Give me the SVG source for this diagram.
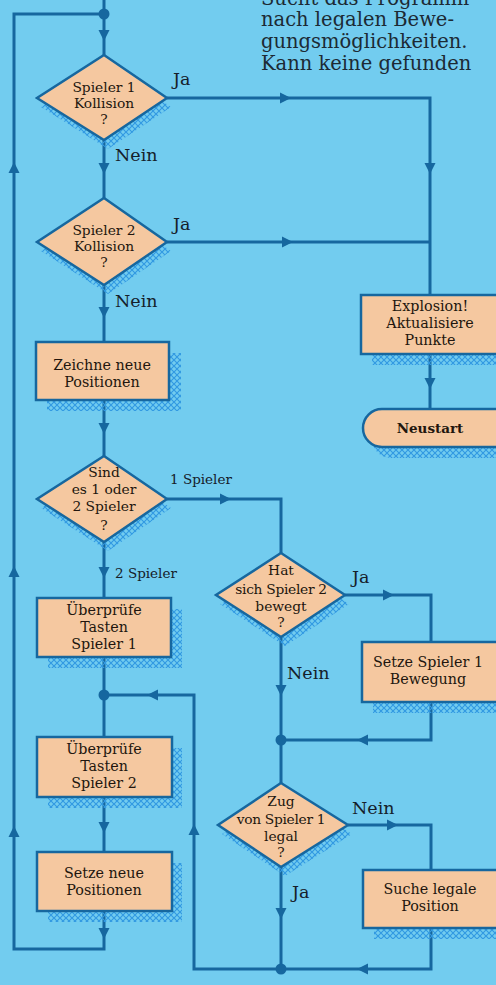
<svg xmlns="http://www.w3.org/2000/svg" width="496" height="985" viewBox="0 0 496 985">
<defs>
<style>
.ln{fill:none;stroke:#16679f;stroke-width:3;stroke-linejoin:miter}
.nd{fill:#f5c8a0;stroke:#16679f;stroke-width:2.5}
.sh{fill:url(#hatch)}
.t{font-family:"DejaVu Serif","Liberation Serif",serif;font-size:14.3px;fill:#22160e;text-anchor:middle}
.dt{font-size:13.8px}
.lb{font-family:"DejaVu Serif","Liberation Serif",serif;fill:#15202a}
.big{font-size:17.5px}
.sm{font-size:13.5px}
.note{font-family:"DejaVu Serif","Liberation Serif",serif;font-size:19.5px;fill:#1c2a34}
.dot{fill:#16679f}
.ah{fill:#16679f}
</style>
<pattern id="hatch" width="6" height="6" patternUnits="userSpaceOnUse">
<path d="M0,0 L6,6 M6,0 L0,6" stroke="#3199e2" stroke-width="1.2"/>
</pattern>
<path id="a" d="M-5.5,-5 L5.5,-5 L0,6 Z"/>
</defs>
<rect width="496" height="985" fill="#72ccef"/>

<g id="note">
<text class="note" x="261" y="4.5">Sucht das Programm</text>
<text class="note" x="261" y="26">nach legalen Bewe-</text>
<text class="note" x="261" y="48">gungsmöglichkeiten.</text>
<text class="note" x="261" y="69.5">Kann keine gefunden</text>
</g>

<g id="connectors">
<path class="ln" d="M104,0 V55"/>
<path class="ln" d="M104,911 V949 H14 V14 H104"/>
<path class="ln" d="M104,140 V198"/>
<path class="ln" d="M167,98 H430 V295"/>
<path class="ln" d="M167,242 H430"/>
<path class="ln" d="M104,285 V342"/>
<path class="ln" d="M104,400 V456"/>
<path class="ln" d="M104,542 V598"/>
<path class="ln" d="M104,657 V737"/>
<path class="ln" d="M104,797 V852"/>
<path class="ln" d="M430,354 V409"/>
<path class="ln" d="M167,499 H281 V553"/>
<path class="ln" d="M345,595 H431 V642"/>
<path class="ln" d="M281,637 V783"/>
<path class="ln" d="M431,702 V740 H281"/>
<path class="ln" d="M348,825 H431 V870"/>
<path class="ln" d="M281,867 V969"/>
<path class="ln" d="M431,928 V969 H194 V695 H104"/>
<circle class="dot" cx="104" cy="14" r="5.5"/>
<circle class="dot" cx="104" cy="695" r="5.5"/>
<circle class="dot" cx="281" cy="740" r="5.5"/>
<circle class="dot" cx="281" cy="969" r="5.5"/>
<g class="ah">
<use href="#a" transform="translate(104,35)"/>
<use href="#a" transform="translate(104,168)"/>
<use href="#a" transform="translate(104,312)"/>
<use href="#a" transform="translate(104,428)"/>
<use href="#a" transform="translate(104,572)"/>
<use href="#a" transform="translate(104,827)"/>
<use href="#a" transform="translate(104,933)"/>
<use href="#a" transform="translate(430,168)"/>
<use href="#a" transform="translate(430,383)"/>
<use href="#a" transform="translate(281,690)"/>
<use href="#a" transform="translate(281,913)"/>
<use href="#a" transform="translate(285,98) rotate(-90)"/>
<use href="#a" transform="translate(287,242) rotate(-90)"/>
<use href="#a" transform="translate(225,499) rotate(-90)"/>
<use href="#a" transform="translate(388,595) rotate(-90)"/>
<use href="#a" transform="translate(392,825) rotate(-90)"/>
<use href="#a" transform="translate(363,740) rotate(90)"/>
<use href="#a" transform="translate(363,969) rotate(90)"/>
<use href="#a" transform="translate(153,695) rotate(90)"/>
<use href="#a" transform="translate(14,168) rotate(180)"/>
<use href="#a" transform="translate(14,572) rotate(180)"/>
<use href="#a" transform="translate(14,832) rotate(180)"/>
<use href="#a" transform="translate(194,830) rotate(180)"/>
</g>
</g>

<g id="labels">
<text class="lb big" x="173" y="85">Ja</text>
<text class="lb big" x="115" y="161">Nein</text>
<text class="lb big" x="173" y="230">Ja</text>
<text class="lb big" x="115" y="307">Nein</text>
<text class="lb sm" x="170" y="484">1 Spieler</text>
<text class="lb sm" x="115" y="578">2 Spieler</text>
<text class="lb big" x="352" y="583">Ja</text>
<text class="lb big" x="287" y="679">Nein</text>
<text class="lb big" x="352" y="814">Nein</text>
<text class="lb big" x="292" y="898">Ja</text>
</g>

<g id="d1">
<path class="sh" d="M108,64 L171,107 L108,149 L41,107 Z"/>
<path class="nd" d="M104,55 L167,98 L104,140 L37,98 Z"/>
<text class="t dt" x="104" y="92">Spieler 1</text>
<text class="t dt" x="104" y="108">Kollision</text>
<text class="t dt" x="104" y="124">?</text>
</g>

<g id="d2">
<path class="sh" d="M108,207 L171,251 L108,294 L41,251 Z"/>
<path class="nd" d="M104,198 L167,242 L104,285 L37,242 Z"/>
<text class="t dt" x="104" y="235">Spieler 2</text>
<text class="t dt" x="104" y="251">Kollision</text>
<text class="t dt" x="104" y="267">?</text>
</g>

<g id="zeichne">
<rect class="sh" x="47" y="353" width="134" height="58"/>
<rect class="nd" x="36" y="342" width="133" height="58"/>
<text class="t" x="102" y="370">Zeichne neue</text>
<text class="t" x="102" y="387">Positionen</text>
</g>

<g id="explosion">
<rect class="sh" x="372" y="306" width="140" height="59"/>
<rect class="nd" x="361" y="295" width="140" height="59"/>
<text class="t" x="430" y="311">Explosion!</text>
<text class="t" x="430" y="328">Aktualisiere</text>
<text class="t" x="430" y="345">Punkte</text>
</g>

<g id="neustart">
<rect class="sh" x="372" y="420" width="150" height="38" rx="19"/>
<rect class="nd" x="363" y="409" width="150" height="38" rx="19"/>
<text class="t" x="430" y="433" style="font-size:13.5px;font-weight:bold">Neustart</text>
</g>

<g id="d3">
<path class="sh" d="M108,465 L171,508 L108,551 L41,508 Z"/>
<path class="nd" d="M104,456 L167,499 L104,542 L37,499 Z"/>
<text class="t dt" x="104" y="477">Sind</text>
<text class="t dt" x="104" y="494">es 1 oder</text>
<text class="t dt" x="104" y="511">2 Spieler</text>
<text class="t dt" x="104" y="530">?</text>
</g>

<g id="pruefe1">
<rect class="sh" x="48" y="609" width="134" height="59"/>
<rect class="nd" x="37" y="598" width="134" height="59"/>
<text class="t" x="104" y="615">Überprüfe</text>
<text class="t" x="104" y="632">Tasten</text>
<text class="t" x="104" y="649">Spieler 1</text>
</g>

<g id="d4">
<path class="sh" d="M285,562 L349,604 L285,646 L220,604 Z"/>
<path class="nd" d="M281,553 L345,595 L281,637 L216,595 Z"/>
<text class="t dt" x="281" y="575">Hat</text>
<text class="t dt" x="281" y="594" style="letter-spacing:-0.3px">sich Spieler 2</text>
<text class="t dt" x="281" y="611">bewegt</text>
<text class="t dt" x="281" y="627">?</text>
</g>

<g id="setze1">
<rect class="sh" x="373" y="653" width="140" height="60"/>
<rect class="nd" x="362" y="642" width="140" height="60"/>
<text class="t" x="428" y="667">Setze Spieler 1</text>
<text class="t" x="428" y="684">Bewegung</text>
</g>

<g id="pruefe2">
<rect class="sh" x="48" y="748" width="134" height="60"/>
<rect class="nd" x="37" y="737" width="135" height="60"/>
<text class="t" x="104" y="754">Überprüfe</text>
<text class="t" x="104" y="771">Tasten</text>
<text class="t" x="104" y="788">Spieler 2</text>
</g>

<g id="d5">
<path class="sh" d="M285,792 L352,834 L285,876 L222,834 Z"/>
<path class="nd" d="M281,783 L348,825 L281,867 L218,825 Z"/>
<text class="t dt" x="281" y="806">Zug</text>
<text class="t dt" x="281" y="824" style="letter-spacing:-0.3px">von Spieler 1</text>
<text class="t dt" x="281" y="841">legal</text>
<text class="t dt" x="281" y="857">?</text>
</g>

<g id="setzeneu">
<rect class="sh" x="48" y="863" width="134" height="59"/>
<rect class="nd" x="37" y="852" width="135" height="59"/>
<text class="t" x="104" y="878">Setze neue</text>
<text class="t" x="104" y="895">Positionen</text>
</g>

<g id="suche">
<rect class="sh" x="374" y="881" width="140" height="58"/>
<rect class="nd" x="363" y="870" width="140" height="58"/>
<text class="t" x="430" y="894">Suche legale</text>
<text class="t" x="430" y="911">Position</text>
</g>
</svg>
